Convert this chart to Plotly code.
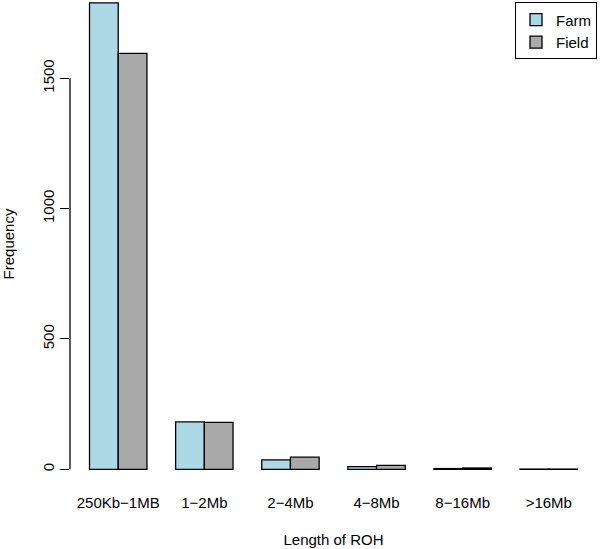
import plotly.graph_objects as go

# ROH length classes and counts per population
categories = ["250Kb\u22121MB", "1\u22122Mb", "2\u22124Mb", "4\u22128Mb", "8\u221216Mb", ">16Mb"]
farm = [1789, 182, 36, 10, 3, 1]
field = [1595, 180, 47, 15, 5, 1]
y_ticks = [0, 500, 1000, 1500]

font = "Liberation Sans, Arial, sans-serif"

fig = go.Figure()
fig.add_trace(go.Bar(x=categories, y=farm, name="Farm",
                     marker=dict(color="#ADD8E6", line=dict(color="black", width=1.3))))
fig.add_trace(go.Bar(x=categories, y=field, name="Field",
                     marker=dict(color="#A9A9A9", line=dict(color="black", width=1.3))))

# R style y axis line that only spans the tick range
fig.add_shape(type="line", xref="paper", yref="y", x0=0, x1=0, y0=y_ticks[0], y1=y_ticks[-1],
              line=dict(color="black", width=1.3))

fig.update_layout(
    width=600, height=549,
    margin=dict(l=70, r=3, t=0, b=61, autoexpand=False),
    plot_bgcolor="white", paper_bgcolor="white",
    font=dict(family=font, size=15, color="black"),
    barmode="group", bargap=1/3, bargroupgap=0,
    legend=dict(x=1, xanchor="right", y=0.995, yanchor="top",
                bordercolor="black", borderwidth=1, bgcolor="white",
                font=dict(size=15), tracegroupgap=0, itemwidth=30),
    xaxis=dict(range=[-0.56, 5.56], showline=False, showgrid=False, zeroline=False,
               automargin=False, ticks="", tickfont=dict(size=15), ticklabelstandoff=4,
               title=dict(text="Length of ROH", font=dict(size=15), standoff=24)),
    yaxis=dict(range=[-71.6, 1800], tickvals=y_ticks, showline=False, showgrid=False,
               automargin=False, zeroline=False, ticks="outside", ticklen=9, tickwidth=1.3,
               tickcolor="black", tickangle=-90, tickfont=dict(size=15),
               title=dict(text="Frequency", font=dict(size=15), standoff=23)),
)

# remove the default page margin so the figure fills the window
fig.write_html("out.html", config={"displayModeBar": False},
               post_script="document.body.style.margin='0';")
